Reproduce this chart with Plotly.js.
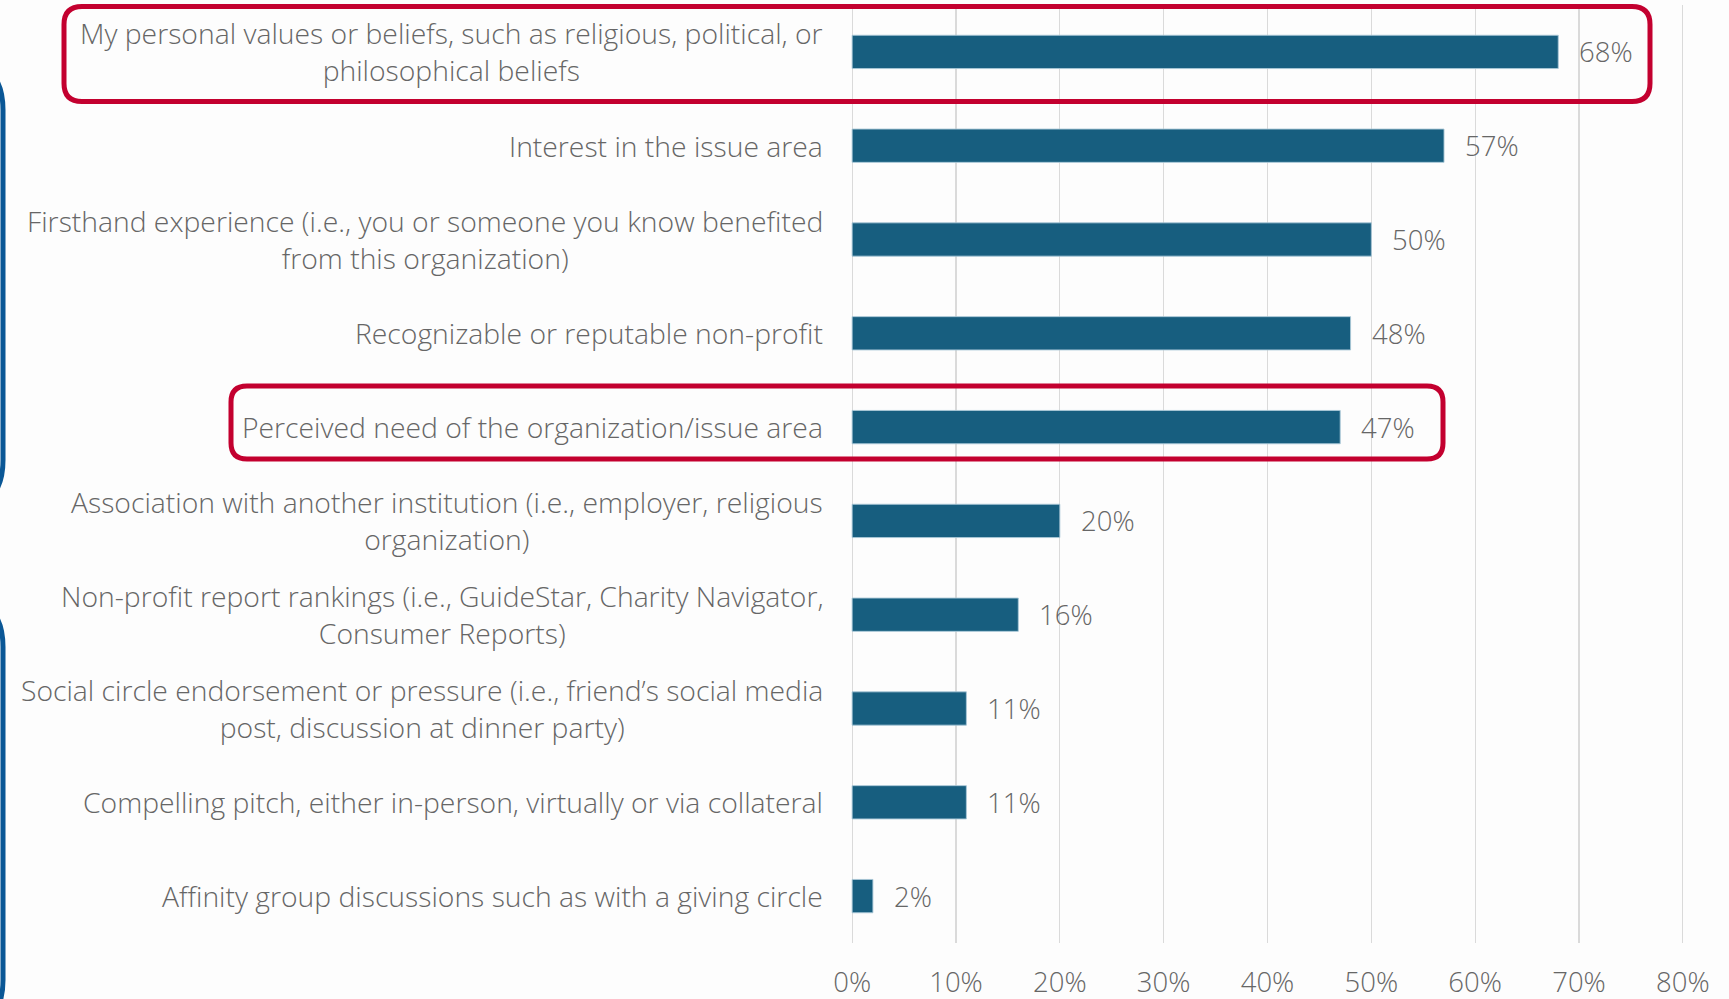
<!DOCTYPE html>
<html>
<head>
<meta charset="utf-8">
<script src="https://cdn.plot.ly/plotly-3.0.1.min.js"></script>
<style>html,body{margin:0;padding:0;background:#fdfdfd;}#chart{width:1729px;height:999px;}</style>
</head>
<body>
<div id="chart"></div>
<script>
// ---- data ----
const categories = [
  "My personal values or beliefs, such as religious, political, or<br>philosophical beliefs",
  "Interest in the issue area",
  "Firsthand experience (i.e., you or someone you know benefited<br>from this organization)",
  "Recognizable or reputable non-profit",
  "Perceived need of the organization/issue area",
  "Association with another institution (i.e., employer, religious<br>organization)",
  "Non-profit report rankings (i.e., GuideStar, Charity Navigator,<br>Consumer Reports)",
  "Social circle endorsement or pressure (i.e., friend’s social media<br>post, discussion at dinner party)",
  "Compelling pitch, either in-person, virtually or via collateral",
  "Affinity group discussions such as with a giving circle"
];
const values = [0.68, 0.57, 0.50, 0.48, 0.47, 0.20, 0.16, 0.11, 0.11, 0.02];
const valueLabels = ["68%", "57%", "50%", "48%", "47%", "20%", "16%", "11%", "11%", "2%"];
const tickValues = [0, 0.1, 0.2, 0.3, 0.4, 0.5, 0.6, 0.7, 0.8];
const tickLabels = ["0%", "10%", "20%", "30%", "40%", "50%", "60%", "70%", "80%"];

// ---- layout geometry ----
const W = 1729, H = 999;
const M = {l: 848, r: 42, t: 5, b: 56};
const PW = W - M.l - M.r, PH = H - M.t - M.b;
const FONT = '"Open Sans", "Liberation Sans", sans-serif';
const GREY = '#666666';

function px(x) { return (x - M.l) / PW; }
function py(y) { return 1 - (y - M.t) / PH; }
function roundRect(x0, y0, x1, y1, r) {
  const p = [];
  p.push('M' + px(x0 + r) + ',' + py(y0));
  p.push('L' + px(x1 - r) + ',' + py(y0));
  p.push('Q' + px(x1) + ',' + py(y0) + ' ' + px(x1) + ',' + py(y0 + r));
  p.push('L' + px(x1) + ',' + py(y1 - r));
  p.push('Q' + px(x1) + ',' + py(y1) + ' ' + px(x1 - r) + ',' + py(y1));
  p.push('L' + px(x0 + r) + ',' + py(y1));
  p.push('Q' + px(x0) + ',' + py(y1) + ' ' + px(x0) + ',' + py(y1 - r));
  p.push('L' + px(x0) + ',' + py(y0 + r));
  p.push('Q' + px(x0) + ',' + py(y0) + ' ' + px(x0 + r) + ',' + py(y0));
  p.push('Z');
  return p.join(' ');
}

const trace = {
  type: 'bar',
  orientation: 'h',
  x: values,
  y: categories,
  marker: {color: '#175e7f', line: {color: 'rgba(170,200,215,0.9)', width: 1}},
  hoverinfo: 'skip'
};

const annotations = [];
categories.forEach((c, i) => {
  annotations.push({
    xref: 'x', yref: 'y', x: 0, y: c, text: c,
    xanchor: 'right', yanchor: 'middle', align: 'center', xshift: -27,
    showarrow: false, font: {family: FONT, size: 28.3, color: GREY, weight: 300}
  });
  annotations.push({
    xref: 'x', yref: 'y', x: values[i], y: c, text: valueLabels[i],
    xanchor: 'left', yanchor: 'middle', xshift: 19,
    showarrow: false, font: {family: FONT, size: 27.5, color: GREY, weight: 300}
  });
});

const red = '#c3002f', blue = '#0a5796';
const shapes = [
  {type: 'path', xref: 'paper', yref: 'paper', path: roundRect(64, 6.5, 1650, 101.5, 18), line: {color: red, width: 5}},
  {type: 'path', xref: 'paper', yref: 'paper', path: roundRect(231, 386, 1443, 459, 16), line: {color: red, width: 5}},
  {type: 'path', xref: 'paper', yref: 'paper', path: roundRect(-60, 60, 3, 510, 50), line: {color: blue, width: 5}},
  {type: 'path', xref: 'paper', yref: 'paper', path: roundRect(-60, 597, 3, 1030, 50), line: {color: blue, width: 5}}
];

const layout = {
  width: W, height: H,
  margin: M,
  paper_bgcolor: '#fdfdfd', plot_bgcolor: '#fdfdfd',
  showlegend: false,
  bargap: 0.645,
  font: {family: FONT, size: 27, color: GREY},
  xaxis: {
    range: [-0.004, 0.804], tickvals: tickValues, ticktext: tickLabels,
    showgrid: true, gridcolor: '#dadada', gridwidth: 1.3,
    zeroline: false, showline: false, ticks: '',
    ticklabelstandoff: 20,
    tickfont: {family: FONT, size: 27.5, color: GREY, weight: 300},
    fixedrange: true
  },
  yaxis: {
    type: 'category', autorange: 'reversed',
    showticklabels: false, showgrid: false, zeroline: false, showline: false, ticks: '',
    fixedrange: true
  },
  annotations: annotations,
  shapes: shapes
};

Plotly.newPlot('chart', [trace], layout, {displayModeBar: false, staticPlot: true});
</script>
</body>
</html>
